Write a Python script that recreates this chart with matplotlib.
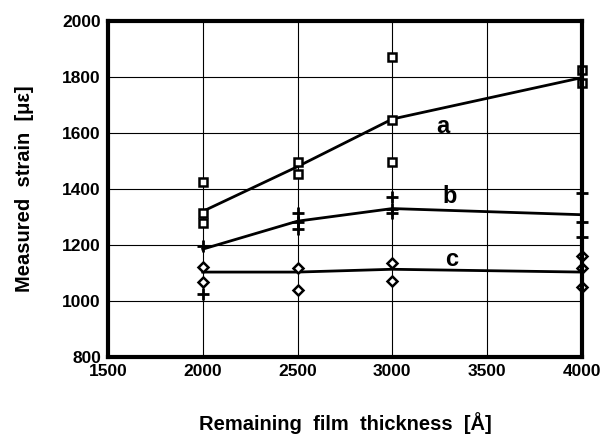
import matplotlib
matplotlib.use("Agg")
import matplotlib.pyplot as plt

plt.rcParams['font.family'] = ['Liberation Sans', 'DejaVu Sans']

# Measured data points
a_x = [2000, 2000, 2000, 2500, 2500, 3000, 3000, 3000, 4000, 4000]
a_y = [1425, 1315, 1280, 1495, 1452, 1872, 1648, 1497, 1825, 1779]
b_x = [2000, 2000, 2500, 2500, 2500, 3000, 3000, 3000, 4000, 4000, 4000]
b_y = [1195, 1025, 1314, 1282, 1257, 1371, 1329, 1314, 1386, 1282, 1229]
c_x = [2000, 2000, 2500, 2500, 3000, 3000, 4000, 4000, 4000]
c_y = [1122, 1068, 1118, 1039, 1136, 1071, 1161, 1118, 1050]

# Fitted lines
line_x = [2000, 2500, 3000, 4000]
a_line = [1320, 1480, 1650, 1798]
b_line = [1185, 1285, 1330, 1308]
c_line = [1103, 1103, 1113, 1103]

labels = ['a', 'b', 'c']
label_pos = [(3265, 1622), (3300, 1372), (3315, 1147)]

xticks = [1500, 2000, 2500, 3000, 3500, 4000]
yticks = [800, 1000, 1200, 1400, 1600, 1800, 2000]

fig = plt.figure(figsize=(6.03, 4.40), dpi=100)
ax = fig.add_axes([0.179, 0.189, 0.786, 0.763])

ax.set_xlim(1500, 4000)
ax.set_ylim(800, 2000)
ax.set_xticks(xticks)
ax.set_yticks(yticks)
ax.grid(True, color='black', linewidth=0.8)
ax.set_axisbelow(True)

for s in ax.spines.values():
    s.set_linewidth(3)
ax.tick_params(length=0, pad=5, labelsize=12.5)
for t in ax.get_xticklabels() + ax.get_yticklabels():
    t.set_fontweight('bold')

ax.plot(line_x, a_line, color='black', lw=2, clip_on=False)
ax.plot(line_x, b_line, color='black', lw=2, clip_on=False)
ax.plot(line_x, c_line, color='black', lw=2, clip_on=False)

ax.plot(a_x, a_y, 's', ms=6, mfc='white', mec='black', mew=1.8, ls='none', clip_on=False)
ax.plot(b_x, b_y, '+', ms=8, mec='black', mew=2, ls='none', clip_on=False)
ax.plot(c_x, c_y, 'D', ms=5, mfc='white', mec='black', mew=1.8, ls='none', clip_on=False)

for lab, (lx, ly) in zip(labels, label_pos):
    ax.text(lx, ly, lab, fontsize=17, fontweight='bold', ha='center', va='center')

ax.set_xlabel('Remaining  film  thickness  [Å]', fontsize=14.5, fontweight='bold', labelpad=24)
ax.set_ylabel('Measured  strain  [με]', fontsize=14.5, fontweight='bold', labelpad=20)

fig.savefig('out.png', dpi=100, facecolor='white')
